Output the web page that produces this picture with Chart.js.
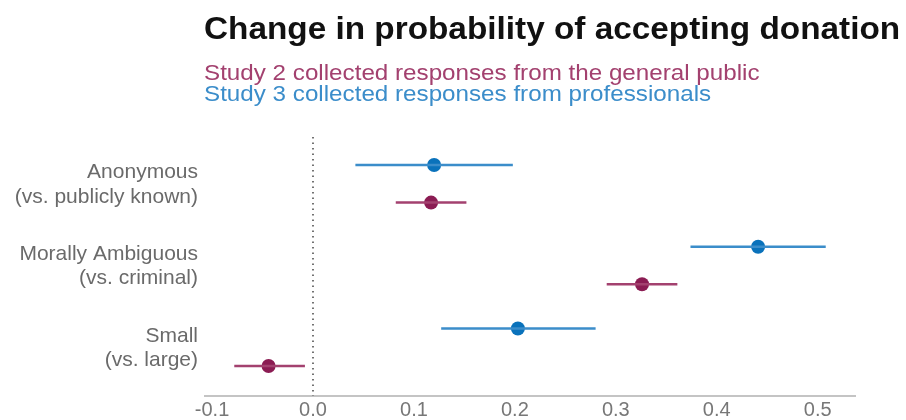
<!DOCTYPE html>
<html>
<head>
<meta charset="utf-8">
<script src="https://cdn.jsdelivr.net/npm/chart.js@4"></script>
<style>
    body { margin: 0; background: #fff; font-family: "Liberation Sans", Arial, sans-serif; }
    #wrap { position: relative; width: 906px; height: 420px; overflow: hidden; }
    #chart { position: absolute; left: 0; top: 0; }
    .title, .sub { position: absolute; left: 204px; white-space: nowrap; transform-origin: 0 0; line-height: 1; }
    .title { top: 13px; font-size: 31px; font-weight: bold; color: #111; transform: scaleX(1.075); }
    .sub { font-size: 22px; transform: scaleX(1.1); }
    .s2 { top: 62px; color: #a3416f; }
    .s3 { top: 83px; color: #3b8dca; }
</style>
</head>
<body>
<div id="wrap">
    <canvas id="chart" width="906" height="420"></canvas>
    <div class="title">Change in probability of accepting donation</div>
    <div class="sub s2">Study 2 collected responses from the general public</div>
    <div class="sub s3">Study 3 collected responses from professionals</div>
</div>
<script>
    "use strict";

    var categories = [
        ["Anonymous", "(vs. publicly known)"],
        ["Morally Ambiguous", "(vs. criminal)"],
        ["Small", "(vs. large)"]
    ];
    var catPos = [3, 2, 1];

    var study2Est = [0.117, 0.326, -0.044];
    var study2Low = [0.082, 0.291, -0.078];
    var study2High = [0.152, 0.361, -0.008];

    var study3Est = [0.120, 0.441, 0.203];
    var study3Low = [0.042, 0.374, 0.127];
    var study3High = [0.198, 0.508, 0.280];

    var xTicks = [-0.1, 0.0, 0.1, 0.2, 0.3, 0.4, 0.5];

    var maroon = "#8b1c53", maroonLine = "#a3416f";
    var blue = "#0a72bb", blueLine = "#3b8dca";
    var off3 = 0.24, off2 = -0.22;
    var font = "'Liberation Sans', Arial, sans-serif";

    var datasets = [];

    function addIntervals(low, high, offset, color) {
        for (var i = 0; i < catPos.length; i++) {
            datasets.push({
                type: "line",
                data: [{ x: low[i], y: catPos[i] + offset }, { x: high[i], y: catPos[i] + offset }],
                borderColor: color,
                borderWidth: 2.5,
                pointRadius: 0,
                fill: false
            });
        }
    }
    addIntervals(study3Low, study3High, off3, blueLine);
    addIntervals(study2Low, study2High, off2, maroonLine);

    datasets.push({
        label: "Study 3",
        data: study3Est.map(function (v, i) { return { x: v, y: catPos[i] + off3 }; }),
        backgroundColor: blue,
        borderWidth: 0,
        pointRadius: 7
    });
    datasets.push({
        label: "Study 2",
        data: study2Est.map(function (v, i) { return { x: v, y: catPos[i] + off2 }; }),
        backgroundColor: maroon,
        borderWidth: 0,
        pointRadius: 7
    });

    // dotted reference line at zero
    var zeroLine = {
        id: "zeroLine",
        beforeDatasetsDraw: function (chart) {
            var ctx = chart.ctx, x = chart.scales.x.getPixelForValue(0);
            ctx.save();
            ctx.strokeStyle = "#444";
            ctx.lineWidth = 1.5;
            ctx.setLineDash([1.5, 4]);
            ctx.beginPath();
            ctx.moveTo(x, chart.chartArea.top);
            ctx.lineTo(x, chart.chartArea.bottom);
            ctx.stroke();
            ctx.restore();
        }
    };

    new Chart(document.getElementById("chart").getContext("2d"), {
        type: "scatter",
        data: { datasets: datasets },
        plugins: [zeroLine],
        options: {
            responsive: false,
            animation: false,
            layout: { padding: { top: 137, right: 51, bottom: 0, left: 0 } },
            plugins: { legend: { display: false }, tooltip: { enabled: false } },
            scales: {
                x: {
                    type: "linear",
                    min: -0.107,
                    max: 0.537,
                    afterBuildTicks: function (scale) {
                        scale.ticks = xTicks.map(function (v) { return { value: v }; });
                    },
                    afterFit: function (scale) { scale.height = 24; },
                    grid: { display: false, drawTicks: false },
                    border: { color: "#c4c4c4", width: 2 },
                    ticks: {
                        padding: 3,
                        color: "#777",
                        font: { size: 20, family: font, lineHeight: 1.1 },
                        callback: function (v) { return v.toFixed(1); }
                    }
                },
                y: {
                    type: "linear",
                    min: 0.413,
                    max: 3.583,
                    afterBuildTicks: function (scale) {
                        scale.ticks = catPos.map(function (v) { return { value: v }; });
                    },
                    afterFit: function (scale) {
                        scale.width = 205;
                        scale.paddingTop = 0;
                        scale.paddingBottom = 0;
                    },
                    grid: { display: false, drawTicks: false },
                    border: { display: false },
                    ticks: {
                        padding: 7,
                        color: "#6a6a6a",
                        font: { size: 21, family: font, lineHeight: 1.15 },
                        callback: function (v) { return categories[catPos.indexOf(v)]; }
                    }
                }
            }
        }
    });
</script>
</body>
</html>
